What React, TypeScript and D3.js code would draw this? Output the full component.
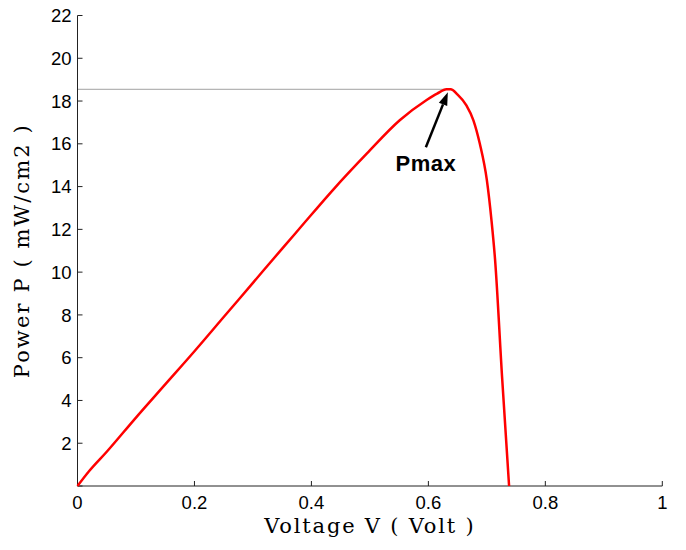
import React from 'react';
import * as d3 from 'd3';

// --- Data ---
const voltage = [0, 0.02, 0.05, 0.1, 0.15, 0.2, 0.25, 0.3, 0.35, 0.38, 0.437, 0.495, 0.551, 0.597, 0.615, 0.631, 0.638, 0.65, 0.665, 0.677, 0.688, 0.7, 0.708, 0.714, 0.726, 0.738];
const power = [0, 0.7, 1.6, 3.2, 4.75, 6.3, 7.9, 9.5, 11.1, 12.05, 13.85, 15.55, 17.1, 18.05, 18.35, 18.55, 18.55, 18.3, 17.8, 17.1, 16.0, 14.3, 12.4, 10.6, 5.1, 0];
const xTicks = [0, 0.2, 0.4, 0.6, 0.8, 1];
const yTicks = [0, 2, 4, 6, 8, 10, 12, 14, 16, 18, 20, 22];
const pmaxV = 0.635;
const pmaxP = 18.55;

const W = 686;
const H = 550;

const App = () => {
  const x = d3.scaleLinear().domain([0, 1]).range([77.5, 662.3]);
  const y = d3.scaleLinear().domain([0, 22]).range([486, 15.5]);

  const pts = voltage.map((v, i) => [v, power[i]] as [number, number]);
  const line = d3.line<[number, number]>()
    .x(d => x(d[0]))
    .y(d => y(d[1]))
    .curve(d3.curveMonotoneX);

  const tickFont = 'Arial, "Liberation Sans", Helvetica, sans-serif';
  const titleFont = '"DejaVu Serif", "Liberation Serif", serif';

  // arrow from label to peak
  const ax1 = x(pmaxV) - 23, ay1 = y(pmaxP) + 58;
  const ax2 = x(pmaxV) - 1, ay2 = y(pmaxP) + 3;
  const ang = Math.atan2(ay2 - ay1, ax2 - ax1);
  const hl = 13, hw = 4.5;
  const bx = ax2 - hl * Math.cos(ang), by = ay2 - hl * Math.sin(ang);
  const head = [
    [ax2, ay2],
    [bx + hw * Math.sin(ang), by - hw * Math.cos(ang)],
    [bx - hw * Math.sin(ang), by + hw * Math.cos(ang)],
  ].map(p => p.join(',')).join(' ');

  return (
    <svg width={W} height={H} style={{ position: 'absolute', left: 0, top: 0, background: '#fff' }}>
      {/* axes */}
      <line x1={x(0)} x2={x(0)} y1={y(0)} y2={y(22)} stroke="#222" strokeWidth={1} />
      <line x1={x(0)} x2={x(1)} y1={y(0)} y2={y(0)} stroke="#222" strokeWidth={1} />
      {yTicks.map(t => (
        <g key={'y' + t}>
          <line x1={x(0)} x2={x(0) + 5} y1={y(t)} y2={y(t)} stroke="#222" strokeWidth={1} />
          {t > 0 && (
            <text x={x(0) - 6} y={y(t)} dy="0.36em" textAnchor="end" fontFamily={tickFont} fontSize={18.5} fill="#000">{t}</text>
          )}
        </g>
      ))}
      {xTicks.map(t => (
        <g key={'x' + t}>
          <line x1={x(t)} x2={x(t)} y1={y(0)} y2={y(0) - 5} stroke="#222" strokeWidth={1} />
          <text x={x(t)} y={y(0) + 23} textAnchor="middle" fontFamily={tickFont} fontSize={18.5} fill="#000">{t}</text>
        </g>
      ))}

      {/* Pmax reference line */}
      <line x1={x(0) + 1} x2={x(pmaxV)} y1={y(pmaxP)} y2={y(pmaxP)} stroke="#444" strokeWidth={1} strokeDasharray="1,1" />

      {/* curve */}
      <path d={line(pts) || ''} fill="none" stroke="#ff0000" strokeWidth={2.5} strokeLinejoin="round" />

      {/* annotation */}
      <line x1={ax1} y1={ay1} x2={bx} y2={by} stroke="#000" strokeWidth={2.5} />
      <polygon points={head} fill="#000" />
      <text x={x(pmaxV) - 23} y={y(pmaxP) + 82} textAnchor="middle" fontFamily={tickFont} fontWeight="bold" fontSize={22} letterSpacing={0.5} fill="#000">Pmax</text>

      {/* titles */}
      <text x={(x(0) + x(1)) / 2} y={533} textAnchor="middle" fontFamily={titleFont} fontSize={21} letterSpacing={1.8} fill="#000">Voltage V ( Volt )</text>
      <text transform={`translate(29,${(y(0) + y(22)) / 2}) rotate(-90)`} textAnchor="middle" fontFamily={titleFont} fontSize={21} letterSpacing={2.1} fill="#000">Power P ( mW/cm2 )</text>
    </svg>
  );
};

export default App;
